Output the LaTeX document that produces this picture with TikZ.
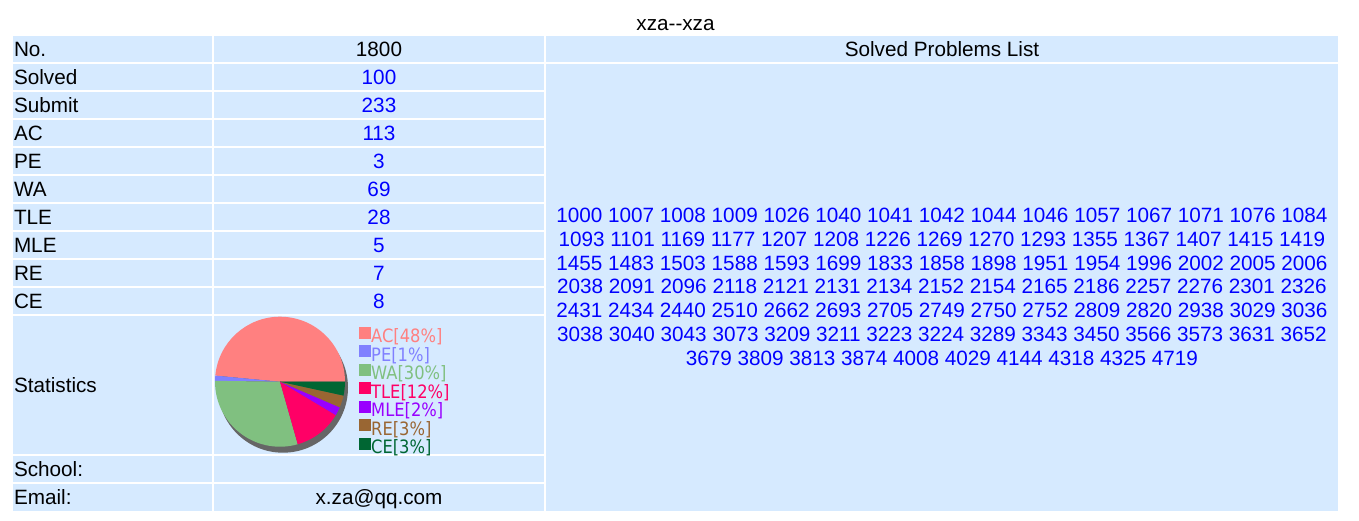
\documentclass[tikz,border=0pt]{standalone}
\usepackage{fontspec}
\setmainfont{Liberation Sans}
\newfontfamily\legfont[FakeStretch=0.886]{DejaVu Sans}
\definecolor{cellbg}{HTML}{D6EAFF}
\definecolor{valblue}{HTML}{0000FF}
\definecolor{cAC}{HTML}{FF8080}
\definecolor{cPE}{HTML}{8080FF}
\definecolor{cWA}{HTML}{80C080}
\definecolor{cTLE}{HTML}{FF0066}
\definecolor{cMLE}{HTML}{9900FF}
\definecolor{cRE}{HTML}{996633}
\definecolor{cCE}{HTML}{006633}
\definecolor{shadowc}{HTML}{666666}
\begin{document}
\begin{tikzpicture}[x=1pt,y=-1pt,
  every node/.style={inner sep=0pt,outer sep=0pt},
  txt/.style={font=\fontsize{20.7}{23.8}\selectfont},
  lab/.style={txt,anchor=base west,text=black},
  val/.style={txt,anchor=base,text=valblue},
  plain/.style={txt,anchor=base,text=black},
  num/.style={txt,anchor=base,text=valblue},
  leg/.style={font=\legfont\fontsize{18.4}{20}\selectfont,anchor=base west},
  cell/.style={fill=cellbg}]
\useasboundingbox (0,0) rectangle (1359,520);
\fill[white] (0,0) rectangle (1359,520);
% cells
\foreach \t in {36,64,92,120,148,176,204,232,260,288,456}{
  \fill[cell] (13,\t) rectangle (212,\t+26);
  \fill[cell] (214,\t) rectangle (544,\t+26);
}
\fill[cell] (13,484) rectangle (212,510.7);
\fill[cell] (214,484) rectangle (544,510.7);
\fill[cell] (13,316) rectangle (212,454);
\fill[cell] (214,316) rectangle (544,454);
\fill[cell] (546,36) rectangle (1338,62);
\fill[cell] (546,64) rectangle (1338,510.7);
% title
\node[plain] (title) at (675.5,30.2) {xza-{}-xza};
% column 1 labels
\node[lab] (lno) at (14,56.2) {No.};
\node[lab] (lsolved) at (14,84.2) {Solved};
\node[lab] (lsubmit) at (14,112.2) {Submit};
\node[lab] (lac) at (14,140.2) {AC};
\node[lab] (lpe) at (14,168.2) {PE};
\node[lab] (lwa) at (14,196.2) {WA};
\node[lab] (ltle) at (14,224.2) {TLE};
\node[lab] (lmle) at (14,252.2) {MLE};
\node[lab] (lre) at (14,280.2) {RE};
\node[lab] (lce) at (14,308.2) {CE};
\node[lab] (lstat) at (14,392.2) {Statistics};
\node[lab] (lschool) at (14,476.2) {School:};
\node[lab] (lemail) at (14,504.2) {Email:};
% column 2 values
\node[plain] (vno) at (379,56.2) {1800};
\node[val] (vsolved) at (379,84.2) {100};
\node[val] (vsubmit) at (379,112.2) {233};
\node[val] (vac) at (379,140.2) {113};
\node[val] (vpe) at (379,168.2) {3};
\node[val] (vwa) at (379,196.2) {69};
\node[val] (vtle) at (379,224.2) {28};
\node[val] (vmle) at (379,252.2) {5};
\node[val] (vre) at (379,280.2) {7};
\node[val] (vce) at (379,308.2) {8};
\node[plain] (vemail) at (379,504.2) {x.za@qq.com};
% column 3
\node[plain] (hdr) at (942,56.2) {Solved Problems List};
\node[num] (r1) at (942,222.4) {1000 1007 1008 1009 1026 1040 1041 1042 1044 1046 1057 1067 1071 1076 1084};
\node[num] (r2) at (942,246.2) {1093 1101 1169 1177 1207 1208 1226 1269 1270 1293 1355 1367 1407 1415 1419};
\node[num] (r3) at (942,270.0) {1455 1483 1503 1588 1593 1699 1833 1858 1898 1951 1954 1996 2002 2005 2006};
\node[num] (r4) at (942,293.8) {2038 2091 2096 2118 2121 2131 2134 2152 2154 2165 2186 2257 2276 2301 2326};
\node[num] (r5) at (942,317.6) {2431 2434 2440 2510 2662 2693 2705 2749 2750 2752 2809 2820 2938 3029 3036};
\node[num] (r6) at (942,341.4) {3038 3040 3043 3073 3209 3211 3223 3224 3289 3343 3450 3566 3573 3631 3652};
\node[num] (r7) at (942,365.2) {3679 3809 3813 3874 4008 4029 4144 4318 4325 4719};
% pie chart
\begin{scope}[shift={(280,381.7)},yscale=-1]
  \fill[shadowc] (3,-6) circle (65);
  \fill[cAC] (0,0) -- (0:65) arc[start angle=0,end angle=174.592,radius=65] -- cycle;
  \fill[cPE] (0,0) -- (174.592:65) arc[start angle=174.592,end angle=179.227,radius=65] -- cycle;
  \fill[cWA] (0,0) -- (179.227:65) arc[start angle=179.227,end angle=285.837,radius=65] -- cycle;
  \fill[cTLE] (0,0) -- (285.837:65) arc[start angle=285.837,end angle=329.099,radius=65] -- cycle;
  \fill[cMLE] (0,0) -- (329.099:65) arc[start angle=329.099,end angle=336.824,radius=65] -- cycle;
  \fill[cRE] (0,0) -- (336.824:65) arc[start angle=336.824,end angle=347.639,radius=65] -- cycle;
  \fill[cCE] (0,0) -- (347.639:65) arc[start angle=347.639,end angle=360,radius=65] -- cycle;
\end{scope}
% legend
\fill[cAC]  (358.5,326.7) rectangle ++(12,12);
\fill[cPE]  (358.5,345.2) rectangle ++(12,12);
\fill[cWA]  (358.5,363.7) rectangle ++(12,12);
\fill[cTLE] (358.5,382.2) rectangle ++(12,12);
\fill[cMLE] (358.5,400.7) rectangle ++(12,12);
\fill[cRE]  (358.5,419.2) rectangle ++(12,12);
\fill[cCE]  (358.5,437.7) rectangle ++(12,12);
\node[leg,text=cAC]  (gac)  at (371.2,342.7) {AC[48\%]};
\node[leg,text=cPE]  (gpe)  at (371.2,361.2) {PE[1\%]};
\node[leg,text=cWA]  (gwa)  at (371.2,379.7) {WA[30\%]};
\node[leg,text=cTLE] (gtle) at (371.2,398.2) {TLE[12\%]};
\node[leg,text=cMLE] (gmle) at (371.2,416.7) {MLE[2\%]};
\node[leg,text=cRE]  (gre)  at (371.2,435.2) {RE[3\%]};
\node[leg,text=cCE]  (gce)  at (371.2,453.7) {CE[3\%]};
\end{tikzpicture}
\end{document}
